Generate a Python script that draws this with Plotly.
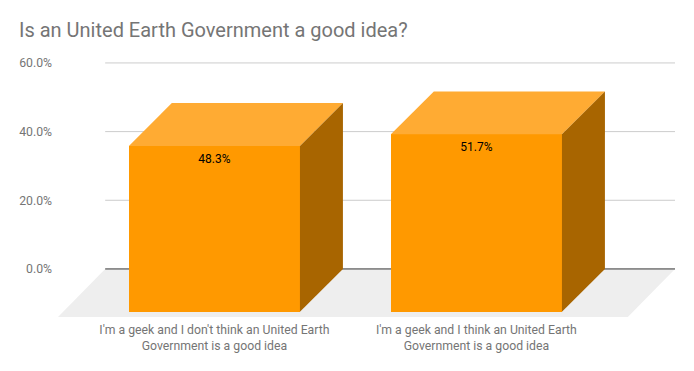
import plotly.graph_objects as go

categories = ["I'm a geek and I don't think an United Earth<br>Government is a good idea",
              "I'm a geek and I think an United Earth<br>Government is a good idea"]
values = [48.3, 51.7]
value_labels = ["48.3%", "51.7%"]
y_ticks = [0, 20, 40, 60]
y_tick_labels = ["0.0%", "20.0%", "40.0%", "60.0%"]
title = "Is an United Earth Government a good idea?"

# projection of the pseudo-3D box, in axis units
BAR_W = 0.653
DX, DY = 0.164, 12.5
FLOOR_DX, FLOOR_DY = 0.18, 14.0
X_MIN, X_MAX = -0.597, 1.758
Y_MIN, Y_MAX = -14.0, 61.0

FRONT, TOP, SIDE = "#ff9900", "#ffab33", "#a86500"
GREY = "#757575"
xs = list(range(len(values)))

fig = go.Figure()


def poly(px, py, color, xa="x", ya="y"):
    fig.add_trace(go.Scatter(x=px + px[:1], y=py + py[:1], mode="lines", fill="toself",
                             fillcolor=color, line=dict(width=0), hoverinfo="skip",
                             showlegend=False, xaxis=xa, yaxis=ya))


# floor
bx0, bx1 = X_MIN + FLOOR_DX, X_MAX
poly([bx0, bx1, bx1 - FLOOR_DX, bx0 - FLOOR_DX], [0, 0, -FLOOR_DY, -FLOOR_DY], "#eeeeee")

# grid lines on the back wall
for t in y_ticks:
    fig.add_trace(go.Scatter(x=[bx0, bx1], y=[t, t], mode="lines",
                             line=dict(color="#333333" if t == 0 else "#cccccc", width=1),
                             hoverinfo="skip", showlegend=False))

# front faces, on an overlaid copy of the axes so they sit above floor and grid
fig.add_trace(go.Bar(x=xs, y=values, base=[-DY] * len(values), width=BAR_W,
                     marker=dict(color=FRONT, line=dict(width=0)), hoverinfo="skip",
                     showlegend=False, xaxis="x2", yaxis="y2"))

# top and side faces
for x, v in zip(xs, values):
    l, r = x - BAR_W / 2, x + BAR_W / 2
    poly([l, r, r + DX, l + DX], [v - DY, v - DY, v, v], TOP, "x2", "y2")
    poly([r, r + DX, r + DX, r], [-DY, 0, v, v - DY], SIDE, "x2", "y2")

# value labels
fig.add_trace(go.Scatter(x=xs, y=[v - DY - 2.3 for v in values], mode="text", text=value_labels,
                         textposition="bottom center",
                         textfont=dict(family="Roboto", size=12, color="#000000"),
                         hoverinfo="skip", showlegend=False, xaxis="x2", yaxis="y2"))

fig.update_layout(
    width=686, height=363, autosize=False,
    margin=dict(l=50, r=19, t=51.1, b=54.4, pad=0),
    paper_bgcolor="white", plot_bgcolor="white",
    font=dict(family="Roboto", size=12, color=GREY),
    title=dict(text=title, x=11 / 686, xanchor="left", y=1 - 22 / 363, yanchor="middle",
               font=dict(family="Roboto", size=20, color=GREY)),
    xaxis=dict(range=[X_MIN, X_MAX], tickvals=xs, ticktext=categories, showgrid=False,
               zeroline=False, showline=False, ticks="", tickfont=dict(size=12.25, color=GREY),
               ticklabelstandoff=4, fixedrange=True),
    yaxis=dict(range=[Y_MIN, Y_MAX + 0.15], tickvals=y_ticks, ticktext=y_tick_labels, showgrid=False,
               zeroline=False, showline=False, ticks="", tickfont=dict(size=12.25, color=GREY),
               ticklabelstandoff=5, fixedrange=True),
    xaxis2=dict(range=[X_MIN, X_MAX], overlaying="x", visible=False, fixedrange=True),
    yaxis2=dict(range=[Y_MIN, Y_MAX + 0.15], overlaying="y", visible=False, fixedrange=True),
    bargap=0,
)
fig.write_html("out.html", config=dict(displayModeBar=False))
